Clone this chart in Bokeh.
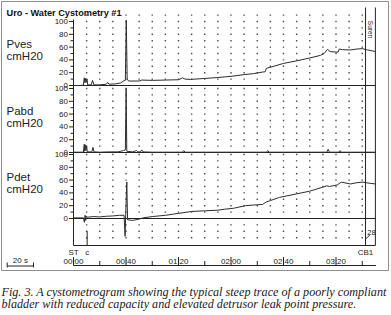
import math
from bokeh.plotting import figure
from bokeh.models import Range1d
from bokeh.core.properties import value
from bokeh.embed import file_html
from bokeh.resources import INLINE

# ---------------- data ----------------
title = "Uro - Water Cystometry #1"
caption = ["Fig. 3. A cystometrogram showing the typical steep trace of a poorly compliant",
           "bladder with reduced capacity and elevated detrusor leak point pressure."]
channels = ["Pves", "Pabd", "Pdet"]
unit = "cmH20"

pves_t = [0, 5, 7.5, 8.2, 8.7, 9.2, 9.8, 10.3, 10.8, 13.5, 14.5, 15.5, 20, 25, 26, 27, 32, 36, 38, 39.5,
          40.2, 40.9, 42, 50, 52, 60, 70, 80, 83, 85, 89, 100, 110, 120, 130, 137, 144, 146, 147, 150,
          160, 170, 180, 188, 191, 193.5, 195.5, 201.5, 202.5, 205, 211, 216, 220, 224, 228, 230]
pves_v = [0, 0, 0.5, 12, 4, 11, 5, 10, 1, 1, 8, 1, 1, 2, 5, 2, 2.5, 4, 7, 8,
          102, 10, 7, 7, 8.5, 8, 8.5, 9, 12, 10, 9.5, 11, 12.5, 14.3, 17, 18.5, 21, 21.5, 27, 28.5,
          34.5, 38.5, 43, 47, 50, 56.5, 53, 52, 57, 56, 55.5, 57, 57.6, 55.5, 54, 53]

pabd_t = [0, 7.5, 8.2, 8.5, 9.0, 9.5, 10.0, 10.5, 14, 14.8, 15.6, 20, 28, 34, 38, 39.5, 40.1, 40.6, 45, 48,
          49, 51, 52, 53, 60, 83, 84, 85, 147, 148, 149, 193, 194, 195, 202, 203, 204, 230]
pabd_v = [0.5, 0.5, 13, 2, 12, 3, 10, 1, 1, 8, 1, 0.5, 1, 1, 3, 4, 100, 2, 1, 3,
          1, 1, 4, 1, 0.5, 0.5, 3, 0.5, 0.5, 3, 0.5, 0.5, 5, 0.5, 0.5, 3, 0.5, 0.5]

pdet_t = [0, 7.5, 8.3, 8.8, 9.3, 9.8, 10.5, 15, 20, 25, 30, 35, 38.5, 39.3, 39.8, 40.6, 41.2, 45, 50, 53,
          60, 70, 80, 90, 100, 110, 115, 122, 131, 137, 144, 147, 150, 157, 170, 180, 190, 193, 195, 201,
          204, 211, 216, 220, 226, 230]
pdet_v = [1, 1, -6, 5, -3, 4, 2, 3, 2.5, 3.5, 4, 5, 5, -28, 8, 57, -2, -3, -1, 1,
          3, 5, 8, 11, 12, 13, 14.5, 16, 20, 21, 22, 26, 28, 33, 38.5, 42.7, 49, 51, 50, 52.5,
          56.8, 54, 56, 56.8, 55, 54]

tick_values = [0, 20, 40, 60, 80, 100]
minor_tick_values = [10, 30, 50, 70, 90]
time_ticks = [0, 40, 80, 120, 160, 200]
time_labels = ["00:00", "00:40", "01:20", "02:00", "02:40", "03:20"]
time_minor = [20, 60, 100, 140, 180, 220]
event_t = [0, 10.4, 222.5]
event_names = ["ST", "c", "CB1"]
cb1_volume = "28"
side_note = "Suren"
scale_bar_s = 20

# ---------------- layout ----------------
W, H = 391, 315
X0, KX = 73.0, 1.3125           # px of t = 0, px per second
KY = 0.64                        # px per cmH2O
ZERO_ROW = {"Pves": 85.0, "Pabd": 152.0, "Pdet": 218.0}
T_END = 230.0
TOP_ROW, BOTTOM_ROW, AXIS_ROW = 7, 245, 265
INK = "#222222"
TRACE = "#2e2e2e"
SANS = value("Liberation Sans")

p = figure(width=W, height=H, output_backend="svg", toolbar_location=None,
           x_range=Range1d(-X0 / KX, (W - X0) / KX), y_range=Range1d(H, 0),
           x_axis_type=None, y_axis_type=None, min_border=0)
p.outline_line_color = None
p.background_fill_color = "white"
p.extra_x_ranges = {"px": Range1d(0, W)}
p.extra_y_ranges = {k: Range1d((z - H) / KY, z / KY) for k, z in ZERO_ROW.items()}

# outer box
p.quad(left=1, right=388, top=1, bottom=270, x_range_name="px",
       fill_color=None, line_color="#8f8f8f", line_width=1)

# title
p.text(x=[6], y=[12.5], text=[title], x_range_name="px", text_font=SANS,
       text_font_size=value("9.2px"), text_font_style="bold", text_color="#111111",
       text_baseline="middle", text_align="left")

# dotted grid
grid_t = list(range(10, 221, 10))
grid_rows = {"Pves": list(range(10, 111, 10)), "Pabd": list(range(10, 101, 10)),
             "Pdet": [-30, -20, -10] + list(range(10, 101, 10))}
for name in channels:
    gx = [t for v in grid_rows[name] for t in grid_t]
    gy = [v for v in grid_rows[name] for t in grid_t]
    p.scatter(gx, gy, y_range_name=name, marker="square", size=1.4,
              fill_color="#4a4a4a", line_color=None)

# panel axes: zero lines, ticks, labels, channel names
for name in channels:
    p.segment(x0=[0], x1=[T_END], y0=[0], y1=[0], y_range_name=name, line_color=INK, line_width=1)
    p.segment(x0=[68.5] * len(tick_values), x1=[72.5] * len(tick_values), y0=tick_values, y1=tick_values,
              x_range_name="px", y_range_name=name, line_color=INK, line_width=1)
    p.segment(x0=[70] * len(minor_tick_values), x1=[72.5] * len(minor_tick_values),
              y0=minor_tick_values, y1=minor_tick_values,
              x_range_name="px", y_range_name=name, line_color=INK, line_width=1)
    p.text(x=[67.5] * len(tick_values), y=tick_values, text=[str(v) for v in tick_values],
           x_range_name="px", y_range_name=name, text_font=SANS, text_font_size=value("8px"),
           text_color=INK, text_align="right", text_baseline="middle")
    p.text(x=[6, 6], y=[65.5, 45.5], text=[name, unit], x_range_name="px", y_range_name=name,
           text_font=SANS, text_font_size=value("11.5px"), text_color=INK,
           text_align="left", text_baseline="middle")

# frame lines
p.segment(x0=[0], x1=[0], y0=[19], y1=[BOTTOM_ROW], line_color=INK, line_width=1)
p.segment(x0=[T_END], x1=[T_END], y0=[TOP_ROW], y1=[BOTTOM_ROW], line_color=INK, line_width=1)
p.segment(x0=[0], x1=[T_END], y0=[BOTTOM_ROW], y1=[BOTTOM_ROW], line_color=INK, line_width=1)

# traces
p.line(pves_t, pves_v, y_range_name="Pves", line_color=TRACE, line_width=1)
p.line(pabd_t, pabd_v, y_range_name="Pabd", line_color=TRACE, line_width=1)
p.line(pdet_t, pdet_v, y_range_name="Pdet", line_color=TRACE, line_width=1)

# event markers
p.segment(x0=[event_t[2]], x1=[event_t[2]], y0=[TOP_ROW], y1=[BOTTOM_ROW], line_color=INK, line_width=1)
p.segment(x0=[event_t[1]], x1=[event_t[1]], y0=[-20], y1=[-42], y_range_name="Pdet",
          line_color=INK, line_width=1)
p.text(x=event_t, y=[251.5] * 3, text=event_names, text_font=SANS, text_font_size=value("8px"),
       text_color=INK, text_align="center", text_baseline="middle")
p.line([event_t[2], event_t[2] + 3.5], [-32, -25.5], y_range_name="Pdet", line_color=TRACE, line_width=1)
p.text(x=[event_t[2] + 1.3], y=[-22], text=[cb1_volume], y_range_name="Pdet", text_font=SANS,
       text_font_size=value("7.5px"), text_color=INK, text_align="left", text_baseline="middle")
p.text(x=[event_t[2] + 4], y=[29], text=[side_note], text_font=SANS, angle=-math.pi / 2,
       text_font_size=value("6.5px"), text_color=INK, text_align="center", text_baseline="middle")

# time axis
p.segment(x0=[0], x1=[T_END + 0.5], y0=[AXIS_ROW], y1=[AXIS_ROW], line_color=INK, line_width=1)
p.segment(x0=time_ticks, x1=time_ticks, y0=[256.5] * len(time_ticks), y1=[AXIS_ROW] * len(time_ticks),
          line_color=INK, line_width=1)
p.segment(x0=time_minor, x1=time_minor, y0=[260.5] * len(time_minor), y1=[AXIS_ROW] * len(time_minor),
          line_color=INK, line_width=1)
p.text(x=time_ticks, y=[260.5] * len(time_ticks), text=time_labels, text_font=SANS,
       text_font_size=value("8px"), text_color=INK, text_align="center", text_baseline="middle")

# 20 s scale bar
sb0 = -50.5
p.segment(x0=[sb0], x1=[sb0 + scale_bar_s], y0=[265.5], y1=[265.5], line_color=INK, line_width=1)
p.segment(x0=[sb0, sb0 + scale_bar_s], x1=[sb0, sb0 + scale_bar_s], y0=[262, 262], y1=[267, 267],
          line_color=INK, line_width=1)
p.text(x=[sb0 + scale_bar_s / 2], y=[259.5], text=[f"{scale_bar_s} s"], text_font=SANS,
       text_font_size=value("8px"), text_color=INK, text_align="center", text_baseline="middle")

# caption
p.text(x=[1, 1], y=[291, 303.5], text=caption, x_range_name="px", text_font=value("Liberation Serif"),
       text_font_size=value("12.15px"), text_font_style="italic", text_color="#1a1a1a",
       text_align="left", text_baseline="alphabetic")

open("out.html", "w").write(file_html(p, INLINE))
